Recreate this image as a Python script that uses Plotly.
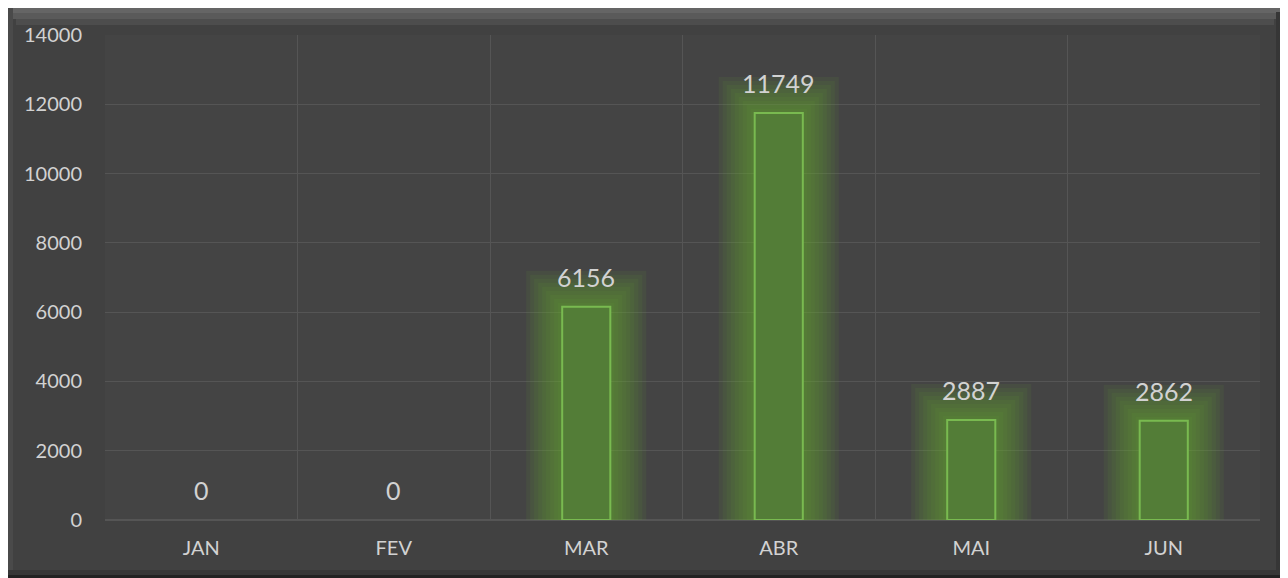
import plotly.graph_objects as go

months = ["JAN", "FEV", "MAR", "ABR", "MAI", "JUN"]
values = [0, 0, 6156, 11749, 2887, 2862]
y_ticks = [0, 2000, 4000, 6000, 8000, 10000, 12000, 14000]

# page has an 8px body margin, so the figure is 8px smaller than the window
OFF = 8
W, H = 1288 - OFF, 578 - OFF
ML, MR, MT, MB = 105 - OFF, 28, 35 - OFF, 58
txt = "#d2d2d2"
font_name = "Lato, Open Sans, sans-serif"


def px(x):
    # screen x -> paper x
    return (x - OFF - ML) / (W - ML - MR)


def py(y):
    # screen y -> paper y
    return (H - MB - (y - OFF)) / (H - MT - MB)


fig = go.Figure()

# soft glow: stacked translucent strokes, widest first
shown = [v if v > 0 else None for v in values]
for lw in [72, 64, 56, 48, 40, 32, 24, 16, 8]:
    fig.add_trace(go.Bar(
        x=months, y=shown, width=0.25,
        marker=dict(color="rgba(0,0,0,0)",
                    line=dict(color="rgba(100,175,45,0.085)", width=lw)),
        hoverinfo="skip", showlegend=False))

fig.add_trace(go.Bar(
    x=months, y=shown, width=0.25,
    marker=dict(color="#537d37", line=dict(color="#79ba50", width=2)),
    name="", showlegend=False))

for m, v in zip(months, values):
    fig.add_annotation(x=m, y=v, text=str(v), showarrow=False, yshift=30,
                       font=dict(size=25, color=txt, family=font_name))


# bevelled frame around the chart (screen coords)
def box(x0, y0, x1, y1, color):
    fig.add_shape(type="rect", xref="paper", yref="paper",
                  x0=px(x0), x1=px(x1), y0=py(y1), y1=py(y0),
                  fillcolor=color, line_width=0, layer="below")


box(8, 8, 1282, 13, "#656565")
box(12, 13, 1278, 19, "#5a5a5a")
box(16, 19, 1274, 25, "#4d4d4d")
box(8, 8, 13, 575, "#4a4a4a")
box(1276, 12, 1282, 575, "#363636")
box(1282, 8, 1286, 578, "#1c1c1c")
box(1286, 8, 1288, 578, "#d8d8d8")
box(8, 570, 1282, 575, "#373737")
box(8, 575, 1286, 578, "#222222")

fig.update_layout(
    width=W, height=H,
    margin=dict(l=ML, r=MR, t=MT, b=MB),
    paper_bgcolor="#414141", plot_bgcolor="#444444",
    barmode="overlay",
    font=dict(family=font_name, color=txt, size=20),
)
fig.update_xaxes(tickson="boundaries", showgrid=True, gridcolor="#555555", gridwidth=1,
                 ticks="", showline=False, tickfont=dict(size=20, color=txt),
                 ticklabelstandoff=14, automargin=False)
fig.update_yaxes(range=[0, 14000], tickvals=y_ticks, ticktext=[str(t) for t in y_ticks],
                 showgrid=True, gridcolor="#555555", gridwidth=1,
                 zeroline=True, zerolinecolor="#555555", showline=False,
                 tickfont=dict(size=20, color=txt), ticklabelstandoff=22, automargin=False)

fig.write_html("out.html")
